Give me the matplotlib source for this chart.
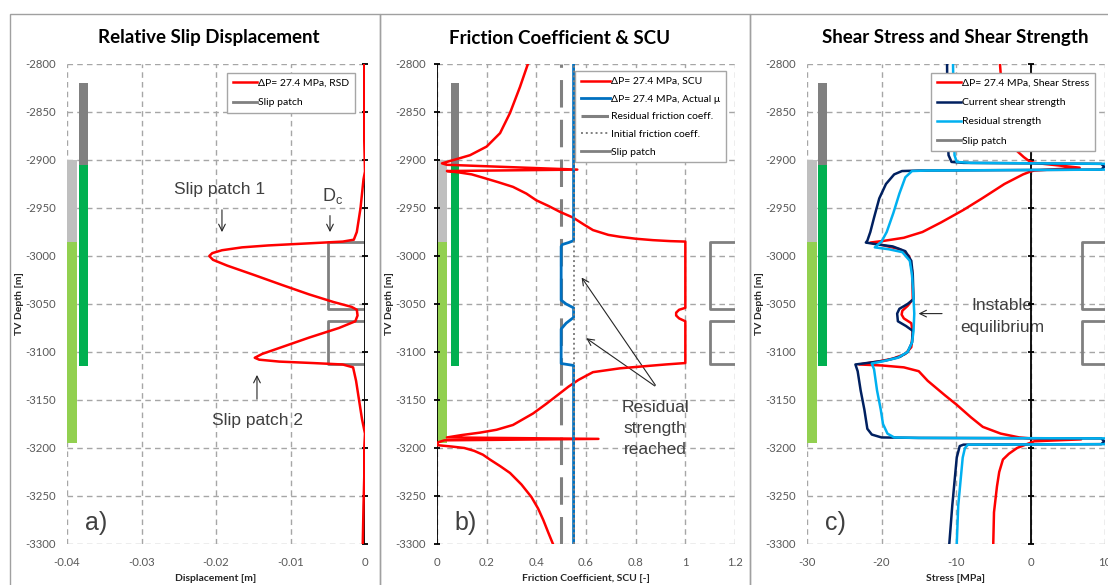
import numpy as np
import matplotlib
matplotlib.use('Agg')
import matplotlib.pyplot as plt
from matplotlib.transforms import blended_transform_factory
from matplotlib.patches import Rectangle

plt.rcParams['font.family'] = ['Lato', 'DejaVu Sans']
plt.rcParams['mathtext.fontset'] = 'custom'
plt.rcParams['mathtext.rm'] = 'Liberation Sans'

# --- данные ---
depth_ticks = [-2800, -2850, -2900, -2950, -3000, -3050, -3100, -3150, -3200, -3250, -3300]

# зоны слева (верх, низ)
zone_light = [(-2900, -2985), (-2985, -3195)]
zone_light_colors = ['#BFBFBF', '#92D050']
zone_dark = [(-2820, -2905), (-2905, -3115)]
zone_dark_colors = ['#808080', '#00B050']

# slip patches
patch_top = [-2985, -3068]
patch_bot = [-3055, -3113]
Dc = 0.005

# a) RSD
rsd_depth = [-2800, -2880, -2912, -2920, -2950, -2975, -2983, -2985, -2987, -2989, -2991, -2994,
             -2997, -3000, -3004, -3010, -3020, -3030, -3040, -3048, -3053, -3056, -3062,
             -3068, -3075, -3085, -3095, -3102, -3106, -3108, -3110, -3111.5, -3113, -3116,
             -3130, -3150, -3170, -3185, -3200, -3230, -3260, -3300]
rsd_disp = [-0.0001, -0.0001, 0.0, -0.0002, -0.0006, -0.0011, -0.0015, -0.003, -0.008, -0.013,
            -0.0165, -0.0192, -0.0205, -0.0209, -0.0204, -0.0185, -0.0148, -0.0112, -0.0075,
            -0.0042, -0.0018, -0.0011, -0.0010, -0.0013, -0.0035, -0.0075, -0.0112, -0.0138,
            -0.0148, -0.0142, -0.0115, -0.0070, -0.0030, -0.0016, -0.0012, -0.0008, -0.0004,
            0.0, -0.0001, -0.0001, -0.0002, -0.0003]

# b) SCU и трение
scu_depth = [-2800, -2824, -2851, -2872, -2886, -2895, -2899, -2902, -2903.5, -2905, -2910,
             -2911.5, -2913, -2915, -2918, -2923, -2928, -2935, -2942, -2948, -2954, -2960,
             -2967, -2973, -2978, -2980, -2982, -2983.5, -2984.5, -2985,
             -3054, -3056, -3059, -3062, -3065, -3068, -3111.5,
             -3113, -3114.6, -3117, -3121, -3129, -3136, -3143, -3154, -3164, -3176, -3181,
             -3184, -3186.5, -3189, -3190.5, -3192, -3194, -3197, -3198.5, -3200, -3203,
             -3207, -3212, -3219, -3226, -3238, -3251, -3263, -3275, -3288, -3300]
scu_val = [0.366, 0.334, 0.294, 0.254, 0.20, 0.133, 0.08, 0.04, 0.02, 0.04, 0.565,
           0.04, 0.09, 0.14, 0.18, 0.245, 0.306, 0.36, 0.40, 0.45, 0.495, 0.548,
           0.59, 0.628, 0.69, 0.737, 0.80, 0.87, 0.94, 1.0,
           1.0, 0.975, 0.963, 0.963, 0.975, 1.0, 1.0,
           0.92, 0.846, 0.737, 0.628, 0.57, 0.53, 0.495, 0.44, 0.387, 0.306, 0.24,
           0.173, 0.10, 0.04, 0.65, 0.03, 0.005, 0.0, 0.06, 0.11, 0.15,
           0.185, 0.213, 0.255, 0.294, 0.34, 0.38, 0.407, 0.428, 0.448, 0.467]
mu_depth = [-2800, -2984, -2986, -2988, -2990, -3046, -3050, -3054, -3064, -3070, -3076,
            -3112, -3114, -3300]
mu_val = [0.55, 0.55, 0.53, 0.505, 0.5, 0.5, 0.52, 0.55, 0.55, 0.52, 0.5, 0.5, 0.55, 0.55]
mu_residual = 0.5
mu_initial = 0.55

# c) напряжения
tau_depth = [-2800, -2830, -2860, -2880, -2890, -2897, -2901, -2903, -2908, -2911, -2912,
             -2915, -2925, -2940, -2952, -2965, -2975, -2981, -2984, -2986, -2988, -2993,
             -3000, -3015, -3045, -3052, -3057, -3061, -3065, -3070, -3080, -3095, -3102,
             -3107, -3110, -3113, -3114, -3116, -3120, -3130, -3145, -3155, -3168, -3178,
             -3185, -3189, -3190, -3191, -3193, -3196, -3200, -3206, -3212, -3225, -3240,
             -3267, -3300]
tau_val = [-4.1, -3.8, -3.3, -2.7, -1.9, -0.9, -0.2, 0.5, 6.6, 0.5, 0.0,
           -1.0, -3.5, -6.5, -9.0, -12.0, -14.5, -17.0, -19.5, -21.5, -20.2, -17.5,
           -16.3, -15.9, -15.8, -16.5, -17.2, -17.3, -17.0, -16.0, -15.8, -16.0, -16.8,
           -18.5, -20.5, -23.0, -20.0, -17.0, -15.0, -13.8, -11.5, -9.9, -8.0, -6.4,
           -4.0, -1.5, 0.0, 6.8, 0.5, -0.5, -1.8, -2.9, -3.7, -4.2, -4.5,
           -4.9, -5.0]
cur_depth = [-2800, -2880, -2895, -2902, -2903, -2904, -2907, -2910, -2911, -2911.5, -2915,
             -2925, -2940, -2960, -2975, -2984, -2986, -2988, -2990, -2995, -3005, -3020,
             -3045, -3050, -3055, -3060, -3068, -3073, -3078, -3090, -3100, -3105, -3109,
             -3111, -3113, -3120, -3140, -3160, -3180, -3186, -3189, -3189.5, -3190, -3193,
             -3196, -3196.5, -3198, -3210, -3260, -3300]
cur_val = [-11.2, -11.1, -11.0, -10.6, -9.0, 9.5, 9.9, 9.5, -15.0, -17.25, -18.3,
           -19.4, -20.3, -21.0, -21.5, -21.9, -22.1, -20.5, -18.5, -16.8, -16.0, -15.8,
           -15.7, -16.5, -17.6, -17.9, -17.8, -16.7, -15.8, -15.9, -16.5, -17.5, -19.5,
           -21.5, -23.5, -23.2, -22.8, -22.3, -21.9, -21.3, -20.0, -15.0, 9.5, 9.9,
           9.5, -9.0, -9.5, -9.9, -10.5, -10.9]
res_depth = [-2800, -2895, -2902, -2903, -2904, -2907, -2910, -2911, -2911.5, -2918, -2935,
             -2955, -2975, -2985, -2991, -2993, -2996, -3005, -3020, -3045, -3060, -3078,
             -3090, -3100, -3106, -3110, -3112, -3118, -3140, -3160, -3175, -3185, -3189,
             -3189.5, -3190, -3193, -3196, -3196.5, -3200, -3210, -3260, -3300]
res_val = [-10.4, -10.2, -9.9, -8.0, 10.5, 10.9, 10.5, -14.0, -15.9, -16.8, -17.6,
           -18.4, -19.3, -20.0, -20.9, -19.0, -17.2, -16.2, -15.9, -15.7, -15.6, -15.7,
           -15.9, -16.5, -17.8, -20.0, -21.3, -21.0, -20.6, -20.1, -19.8, -19.2, -18.3,
           -15.0, 10.5, 10.9, 10.5, -8.4, -8.8, -9.1, -9.7, -9.9]

RED = '#FF0000'
GRAY = '#808080'
GRID = '#A6A6A6'
TXT = '#404040'

W, H = 1108, 585
fig = plt.figure(figsize=(W / 100, H / 100), dpi=100)

# рамки панелей
for x0, x1 in [(10, 380), (380, 750), (750, 1120)]:
    fig.patches.append(Rectangle((x0 / W, -0.02), (x1 - x0) / W, (H - 14) / H + 0.02,
                                 transform=fig.transFigure, fill=False,
                                 edgecolor='#A0A0A0', lw=1.0))

ax_b = 64 / H
ax_h = 480 / H
ax_w = 298 / W
lefts = [67 / W, 437 / W, 807 / W]
axes = [fig.add_axes([l, 1 - ax_b - ax_h, ax_w, ax_h]) for l in lefts]

def style_axis(ax, xlim, xticks, xlabels, xlabel):
    ax.set_xlim(xlim)
    ax.set_ylim(-3300, -2800)
    ax.set_xticks(xticks)
    ax.set_xticklabels(xlabels)
    ax.set_yticks(depth_ticks)
    ax.set_yticklabels([str(t) for t in depth_ticks])
    ax.tick_params(length=0, labelsize=8.2, labelcolor='#595959')
    ax.tick_params(axis='x', pad=9)
    ax.tick_params(axis='y', pad=8)
    for s in ax.spines.values():
        s.set_visible(False)
    ax.grid(True, color=GRID, ls=(0, (4, 3)), lw=1.0)
    ax.set_axisbelow(True)
    ax.set_xlabel(xlabel, fontsize=7.5, fontweight='bold', color='#262626', labelpad=5)
    ax.set_ylabel('TV Depth [m]', fontsize=7.5, fontweight='bold', color='#262626', labelpad=1)

def draw_zones(ax, light_x, dark_x):
    tr = blended_transform_factory(ax.transAxes, ax.transData)
    for (top, bot), c in zip(zone_light, zone_light_colors):
        ax.fill_betweenx([top, bot], light_x[0], light_x[1], color=c, transform=tr, lw=0, zorder=2)
    for (top, bot), c in zip(zone_dark, zone_dark_colors):
        ax.fill_betweenx([top, bot], dark_x[0], dark_x[1], color=c, transform=tr, lw=0, zorder=2)

def draw_patches(ax, x_edge, x_in):
    for i, (t, b) in enumerate(zip(patch_top, patch_bot)):
        ax.plot([x_edge, x_in, x_in, x_edge], [t, t, b, b], color=GRAY, lw=2,
                label='Slip patch' if i == 0 else None, zorder=3)

def zero_axis(ax):
    ax.axvline(0, color='black', lw=1.3, zorder=4)
    ax.plot([0] * len(depth_ticks), depth_ticks, ls='none', marker='_', ms=5,
            mew=1.3, color='black', zorder=4, clip_on=False)

leg_kw = dict(loc='upper right', fancybox=False, edgecolor=GRID, framealpha=1,
              handletextpad=0.1, borderpad=0.55, prop={'family': 'Lato', 'size': 7.5})

# ---------- a) ----------
ax = axes[0]
style_axis(ax, (-0.04, 0), [-0.04, -0.03, -0.02, -0.01, 0],
           ['-0.04', '-0.03', '-0.02', '-0.01', '0'], 'Displacement [m]')
draw_zones(ax, (0.0, 0.034), (0.04, 0.07))
ax.plot(rsd_disp, rsd_depth, color=RED, lw=1.8, label='ΔP= 27.4 MPa, RSD', zorder=5)
draw_patches(ax, 0, -Dc)
zero_axis(ax)
ax.legend(bbox_to_anchor=(0.983, 0.992), handlelength=2.3, labelspacing=0.95, **leg_kw)
af = dict(arrowstyle='->', color='#262626', lw=0.8, mutation_scale=12)
ax.annotate('', xy=(-0.0192, -2978), xytext=(-0.0192, -2949), arrowprops=af)
ax.annotate('', xy=(-0.0047, -2978), xytext=(-0.0047, -2955), arrowprops=af)
ax.annotate('', xy=(-0.0145, -3121), xytext=(-0.0145, -3152), arrowprops=af)
tk = dict(family='Liberation Sans', color=TXT, ha='center', va='center')
ax.text(-0.0195, -2931, 'Slip patch 1', fontsize=12.5, **tk)
ax.text(-0.0043, -2937, r'D$_\mathrm{c}$', fontsize=13, **tk)
ax.text(-0.0144, -3171, 'Slip patch 2', fontsize=12.5, **tk)
ax.text(-0.0361, -3278, 'a)', fontsize=18, **tk)

# ---------- b) ----------
ax = axes[1]
style_axis(ax, (0, 1.2), [0, 0.2, 0.4, 0.6, 0.8, 1.0, 1.2],
           ['0', '0.2', '0.4', '0.6', '0.8', '1', '1.2'], 'Friction Coefficient, SCU [-]')
draw_zones(ax, (0.0, 0.034), (0.047, 0.074))
ax.plot(scu_val, scu_depth, color=RED, lw=1.8, label='ΔP= 27.4 MPa, SCU', zorder=5)
ax.plot(mu_val, mu_depth, color='#0070C0', lw=2, label='ΔP= 27.4 MPa, Actual μ', zorder=5)
ax.axvline(mu_residual, color=GRAY, lw=2.2, ls=(0, (9, 4)), label='Residual friction coeff.', zorder=4)
ax.axvline(mu_initial, color=GRAY, lw=1.4, ls=(0, (1, 1.5)), label='Initial friction coeff.', zorder=6)
draw_patches(ax, 1.25, 1.1)
zero_axis(ax)
ax.legend(bbox_to_anchor=(0.987, 0.996), handlelength=2.8, labelspacing=0.8, **leg_kw)
ax.annotate('', xy=(0.576, -3020), xytext=(0.886, -3137), arrowprops=af)
ax.annotate('', xy=(0.592, -3084), xytext=(0.886, -3137), arrowprops=af)
ax.text(0.878, -3180, 'Residual\nstrength\nreached', fontsize=12.5, linespacing=1.5, **tk)
ax.text(0.117, -3278, 'b)', fontsize=18, **tk)

# ---------- c) ----------
ax = axes[2]
style_axis(ax, (-30, 10), [-30, -20, -10, 0, 10],
           ['-30', '-20', '-10', '0', '10'], 'Stress [MPa]')
draw_zones(ax, (0.0, 0.034), (0.037, 0.067))
ax.plot(tau_val, tau_depth, color=RED, lw=1.8, label='ΔP= 27.4 MPa, Shear Stress', zorder=5)
ax.plot(cur_val, cur_depth, color='#002060', lw=1.8, label='Current shear strength', zorder=5)
ax.plot(res_val, res_depth, color='#00B0F0', lw=1.8, label='Residual strength', zorder=5)
draw_patches(ax, 10.5, 6.9)
zero_axis(ax)
ax.legend(bbox_to_anchor=(0.983, 0.992), handlelength=2.3, labelspacing=0.95, **leg_kw)
ax.annotate('', xy=(-15.4, -3060), xytext=(-11.5, -3060), arrowprops=af)
ax.text(-3.8, -3063, 'Instable\nequilibrium', fontsize=12.5, linespacing=1.55, **tk)
ax.text(-26.2, -3278, 'c)', fontsize=18, **tk)

# заголовки
for xc, t in [(209, 'Relative Slip Displacement'), (560, 'Friction Coefficient & SCU'),
              (955, 'Shear Stress and Shear Strength')]:
    fig.text(xc / W, 1 - 38 / H, t, ha='center', va='center', fontsize=13.5,
             fontweight='bold', color='black')

fig.savefig('out.png', dpi=100)
